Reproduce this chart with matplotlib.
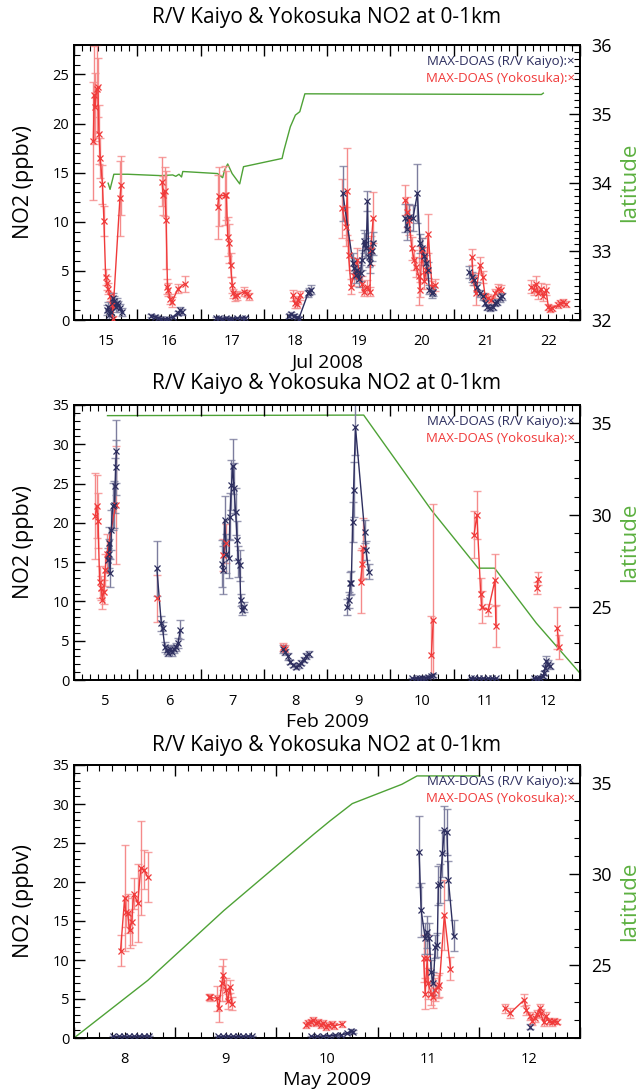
import numpy as np
import matplotlib
matplotlib.use("Agg")
import matplotlib.pyplot as plt
from matplotlib.ticker import MultipleLocator, FixedLocator, NullFormatter

plt.rcParams['font.family'] = ['Open Sans', 'DejaVu Sans']

TITLE = "R/V Kaiyo & Yokosuka NO2 at 0-1km"
NAVY = "#2d2e5f"
RED = "#f03a3a"
GREEN = "#4ea236"
GREEN_LABEL = "#5cb040"

# ---------------- Panel 1 : Jul 2008 ----------------
p1_xlabel = "Jul 2008"
p1_days = [15, 16, 17, 18, 19, 20, 21, 22]
p1_k_t = [15.52, 15.54, 15.56, 15.58, 15.61, 15.636, 15.66, 15.68, 15.70, 15.73, 15.76,
          16.225, 16.28, 16.33, 16.38, 16.435, 16.49, 16.56, 16.64, 16.68, 16.70,
          17.24, 17.29, 17.345, 17.40, 17.45, 17.50, 17.58, 17.66, 17.71,
          18.40, 18.43, 18.475, 18.52, 18.555, 18.70, 18.72, 18.75,
          19.25, 19.41, 19.43, 19.46, 19.48, 19.505, 19.53, 19.55, 19.58, 19.60, 19.62, 19.64, 19.66, 19.68, 19.71, 19.73,
          20.24, 20.26, 20.30, 20.36, 20.43, 20.47, 20.50, 20.54, 20.57, 20.59, 20.62, 20.66, 20.68,
          21.25, 21.29, 21.32, 21.37, 21.42, 21.46, 21.50, 21.53, 21.58, 21.62, 21.66, 21.69, 21.73, 21.76]
p1_k_v = [1.0, 1.35, 0.5, 0.85, 2.2, 1.9, 1.35, 1.7, 1.5, 1.2, 0.8,
          0.45, 0.35, 0.25, 0.15, 0.1, 0.15, 0.3, 0.75, 1.0, 0.85,
          0.25, 0.2, 0.15, 0.17, 0.15, 0.15, 0.17, 0.25, 0.25,
          0.45, 0.6, 0.4, 0.3, 0.15, 2.7, 2.9, 3.1,
          12.9, 5.8, 5.3, 4.6, 5.1, 4.2, 4.8, 6.1, 8.0, 7.7, 7.3, 12.1, 6.4, 5.8, 7.0, 7.8,
          10.4, 9.3, 10.5, 10.4, 12.9, 7.8, 7.3, 6.5, 5.8, 5.1, 3.1, 2.7, 2.9,
          4.9, 4.4, 4.1, 3.4, 2.7, 2.4, 1.7, 1.35, 1.2, 1.35, 1.7, 1.85, 2.2, 2.4]
p1_k_e = [0.5, 0.5, 0.4, 0.4, 0.6, 0.5, 0.5, 0.5, 0.4, 0.4, 0.4,
          0.15, 0.15, 0.1, 0.1, 0.1, 0.1, 0.15, 0.2, 0.3, 0.3,
          0.1, 0.1, 0.1, 0.1, 0.1, 0.1, 0.1, 0.1, 0.1,
          0.2, 0.2, 0.2, 0.15, 0.15, 0.4, 0.4, 0.5,
          2.8, 1.0, 1.0, 0.8, 0.9, 0.8, 0.8, 1.0, 1.2, 1.2, 1.0, 1.0, 1.0, 1.0, 1.0, 1.2,
          1.4, 1.2, 1.3, 1.3, 3.0, 1.0, 1.0, 0.9, 0.8, 0.8, 0.5, 0.5, 0.5,
          0.6, 0.5, 0.5, 0.5, 0.4, 0.4, 0.3, 0.3, 0.3, 0.3, 0.3, 0.3, 0.4, 0.4]
p1_y_t = [15.305, 15.32, 15.336, 15.357, 15.378, 15.394, 15.415, 15.45, 15.473, 15.50, 15.515, 15.54, 15.568, 15.594, 15.61, 15.726, 15.746,
          16.39, 16.41, 16.435, 16.456, 16.478, 16.49, 16.52, 16.546, 16.645, 16.75,
          17.27, 17.29, 17.38, 17.41, 17.43, 17.456, 17.476, 17.50, 17.52, 17.545, 17.58, 17.686, 17.73, 17.76,
          18.46, 18.49, 18.52, 18.54, 18.57,
          19.24, 19.30, 19.32, 19.34, 19.38, 19.42, 19.475, 19.55, 19.58, 19.63, 19.68, 19.69, 19.73,
          20.24, 20.26, 20.30, 20.34, 20.38, 20.41, 20.45, 20.47, 20.50, 20.54, 20.57, 20.60, 20.66, 20.71,
          21.29, 21.31, 21.35, 21.42, 21.46, 21.50, 21.55, 21.60, 21.66, 21.71, 21.745,
          22.23, 22.27, 22.30, 22.34, 22.38, 22.42, 22.46, 22.50, 22.53, 22.56, 22.655, 22.69, 22.73, 22.78]
p1_y_v = [18.2, 22.9, 21.7, 23.5, 23.7, 18.9, 16.5, 13.8, 10.1, 4.4, 3.8, 3.2, 2.4, 1.5, 0.1, 12.4, 13.7,
          14.1, 12.7, 13.1, 10.2, 3.4, 3.1, 2.1, 1.8, 3.2, 3.7,
          11.5, 12.6, 12.7, 12.7, 8.5, 7.8, 5.6, 3.6, 2.7, 2.4, 2.5, 2.9, 2.7, 2.4,
          2.5, 1.7, 1.6, 2.0, 2.5,
          11.4, 9.5, 13.1, 6.6, 3.4, 4.5, 6.1, 3.7, 2.9, 3.4, 2.9, 7.1, 10.4,
          12.2, 11.0, 10.2, 7.3, 6.1, 5.4, 4.5, 3.1, 7.1, 4.0, 5.1, 8.8, 3.4, 3.6,
          6.4, 4.2, 2.7, 5.6, 4.4, 2.4, 2.2, 2.0, 2.7, 3.2, 3.1,
          3.4, 3.1, 3.7, 2.7, 3.2, 2.4, 3.1, 1.35, 1.1, 1.2, 1.5, 1.7, 1.8, 1.6]
p1_y_e = [6.0, 5.0, 3.5, 4.5, 3.0, 3.0, 2.0, 2.0, 1.5, 0.8, 0.7, 0.6, 0.5, 0.4, 0.3, 3.8, 3.0,
          2.5, 2.0, 2.5, 5.0, 0.8, 0.7, 0.5, 0.5, 0.5, 0.8,
          3.3, 3.0, 3.0, 2.5, 2.0, 2.0, 1.2, 0.8, 0.5, 0.5, 0.5, 0.5, 0.4, 0.4,
          0.6, 0.5, 0.4, 0.4, 0.5,
          3.0, 2.0, 4.4, 1.5, 0.8, 1.0, 1.2, 0.8, 0.5, 0.7, 0.5, 1.5, 2.6,
          1.5, 1.5, 1.5, 1.2, 1.0, 1.0, 3.0, 0.8, 1.2, 0.8, 1.0, 2.0, 0.6, 0.6,
          0.8, 0.6, 1.2, 0.8, 0.6, 0.4, 0.4, 0.4, 0.5, 0.5, 0.5,
          0.7, 0.6, 0.8, 0.6, 0.6, 0.5, 0.6, 0.3, 0.3, 0.3, 0.3, 0.3, 0.3, 0.3]
p1_lat_t = [15.54, 15.57, 15.63, 15.85, 16.37, 16.56, 16.61, 16.66, 16.70, 16.72, 17.27, 17.35, 17.38,
            17.43, 17.50, 17.62, 17.68, 18.29, 18.32, 18.42, 18.50, 18.57, 18.65, 22.39, 22.42]
p1_lat_v = [33.99, 33.90, 34.12, 34.12, 34.10, 34.11, 34.09, 34.12, 34.08, 34.16, 34.13, 34.07, 34.18,
            34.27, 34.13, 33.98, 34.23, 34.35, 34.47, 34.81, 34.98, 35.03, 35.29, 35.28, 35.30]

# ---------------- Panel 2 : Feb 2009 ----------------
p2_xlabel = "Feb 2009"
p2_days = [5, 6, 7, 8, 9, 10, 11, 12]
p2_k_t = [5.53, 5.55, 5.56, 5.57, 5.59, 5.61, 5.64, 5.65, 5.66, 5.67,
          6.31, 6.38, 6.40, 6.435, 6.47, 6.49, 6.52, 6.55, 6.58, 6.61, 6.645, 6.68,
          7.345, 7.36, 7.38, 7.41, 7.45, 7.465, 7.49, 7.51, 7.53, 7.555, 7.58, 7.60, 7.62, 7.635, 7.655, 7.68,
          8.31, 8.34, 8.38, 8.42, 8.465, 8.51, 8.55, 8.59, 8.63, 8.675, 8.71,
          9.32, 9.345, 9.37, 9.385, 9.405, 9.42, 9.45, 9.595, 9.616, 9.66,
          10.35, 10.40, 10.45, 10.50, 10.55, 10.60, 10.65, 10.68,
          11.27, 11.33, 11.40, 11.47, 11.54, 11.61, 11.67,
          12.27, 12.32, 12.37, 12.41, 12.43, 12.45, 12.47, 12.50, 12.52]
p2_k_v = [15.3, 16.1, 17.5, 13.6, 19.1, 22.1, 22.3, 24.7, 27.1, 29.1,
          14.2, 7.2, 6.6, 4.2, 3.8, 3.5, 4.0, 3.6, 3.9, 4.2, 4.7, 6.4,
          14.8, 14.0, 20.4, 16.1, 15.5, 20.8, 24.8, 27.2, 24.4, 21.4, 17.8, 15.1, 14.6, 10.2, 8.9, 9.3,
          4.0, 3.6, 3.0, 2.3, 1.9, 1.7, 1.85, 2.2, 2.6, 3.05, 3.3,
          9.3, 10.2, 12.3, 12.4, 20.1, 24.2, 32.2, 18.9, 16.5, 13.8,
          0.2, 0.25, 0.2, 0.3, 0.3, 0.35, 0.5, 0.6,
          0.2, 0.2, 0.2, 0.2, 0.2, 0.2, 0.2,
          0.2, 0.2, 0.3, 0.5, 0.9, 1.5, 2.4, 2.0, 1.8]
p2_k_e = [1.5, 1.8, 2.0, 1.8, 2.5, 3.0, 3.0, 3.5, 3.5, 4.0,
          3.5, 1.0, 0.8, 0.6, 0.5, 0.5, 0.5, 0.5, 0.5, 0.5, 0.6, 1.2,
          3.0, 3.0, 3.0, 2.5, 2.5, 3.0, 3.2, 3.5, 3.2, 3.0, 2.5, 2.0, 2.0, 0.8, 0.6, 0.6,
          0.5, 0.4, 0.4, 0.3, 0.3, 0.3, 0.3, 0.3, 0.3, 0.4, 0.4,
          1.0, 1.0, 1.5, 1.5, 2.5, 3.5, 3.5, 1.5, 1.2, 1.0,
          0.1, 0.1, 0.1, 0.1, 0.1, 0.1, 0.15, 0.2,
          0.1, 0.1, 0.1, 0.1, 0.1, 0.1, 0.1,
          0.1, 0.1, 0.1, 0.2, 0.3, 0.4, 0.6, 0.5, 0.4]
p2_y_t = [5.336, 5.36, 5.38, 5.405, 5.43, 5.45, 5.47, 5.49, 5.52, 5.66,
          6.32,
          7.36, 7.40,
          8.31, 8.33,
          9.53, 9.56, 9.57,
          10.65, 10.68,
          11.325, 11.37, 11.43, 11.445, 11.55, 11.655, 11.67,
          12.32, 12.34, 12.64, 12.67]
p2_y_v = [20.9, 22.1, 20.3, 12.5, 11.7, 10.2, 11.2, 14.0, 16.1, 22.3,
          10.4,
          15.9, 17.4,
          4.2, 3.9,
          12.5, 14.8, 16.8,
          3.2, 7.6,
          18.5, 21.0, 11.0, 9.3, 8.9, 12.7, 6.9,
          11.7, 12.9, 6.6, 4.2]
p2_y_e = [5.5, 4.0, 3.5, 2.0, 1.5, 1.2, 1.5, 2.0, 2.5, 7.5,
          3.0,
          2.0, 2.5,
          0.5, 0.5,
          4.0, 2.0, 3.8,
          5.0, 14.8,
          3.0, 3.0, 2.0, 2.0, 0.8, 3.3, 2.7,
          0.8, 0.8, 2.7, 1.5]
p2_lat_t = [5.53, 9.58, 10.65, 11.39, 11.65, 12.31, 13.0]
p2_lat_v = [35.42, 35.45, 30.27, 27.1, 27.1, 24.1, 21.37]

# ---------------- Panel 3 : May 2009 ----------------
p3_xlabel = "May 2009"
p3_days = [8, 9, 10, 11, 12]
p3_k_t = [8.39, 8.44, 8.49, 8.54, 8.59, 8.64, 8.69, 8.74,
          9.42, 9.47, 9.52, 9.57, 9.62, 9.67, 9.72, 9.76,
          10.34, 10.40, 10.46, 10.52, 10.58, 10.64, 10.70, 10.74, 10.76,
          11.41, 11.43, 11.47, 11.49, 11.51, 11.53, 11.55, 11.57, 11.59, 11.60, 11.62, 11.64, 11.66, 11.685, 11.70, 11.75,
          12.51]
p3_k_v = [0.2, 0.2, 0.2, 0.2, 0.2, 0.2, 0.25, 0.25,
          0.2, 0.2, 0.2, 0.2, 0.2, 0.2, 0.25, 0.25,
          0.2, 0.2, 0.25, 0.3, 0.35, 0.4, 0.6, 0.9, 0.8,
          23.9, 16.4, 12.8, 13.6, 12.8, 8.5, 7.0, 11.7, 11.9, 19.6, 19.8, 23.7, 26.7, 26.4, 20.2, 13.1,
          1.45]
p3_k_e = [0.05, 0.05, 0.05, 0.05, 0.05, 0.05, 0.05, 0.05,
          0.05, 0.05, 0.05, 0.05, 0.05, 0.05, 0.05, 0.05,
          0.05, 0.05, 0.05, 0.1, 0.1, 0.1, 0.15, 0.2, 0.2,
          4.5, 3.5, 2.0, 2.0, 2.0, 1.5, 1.5, 1.5, 1.5, 2.5, 2.5, 3.0, 3.0, 3.0, 2.5, 2.0,
          0.3]
p3_y_t = [8.46, 8.50, 8.51, 8.53, 8.55, 8.57, 8.59, 8.63, 8.66, 8.69, 8.73,
          9.33, 9.345, 9.41, 9.43, 9.46, 9.475, 9.50, 9.52, 9.54, 9.56,
          10.29, 10.31, 10.34, 10.36, 10.39, 10.41, 10.44, 10.46, 10.49, 10.51, 10.55, 10.57, 10.65,
          11.455, 11.47, 11.49, 11.50, 11.53, 11.55, 11.57, 11.595, 11.61, 11.66, 11.72,
          12.26, 12.31, 12.45, 12.47, 12.51, 12.53, 12.56, 12.58, 12.60, 12.61, 12.64, 12.66, 12.69, 12.72, 12.74, 12.77]
p3_y_v = [11.2, 17.9, 16.2, 16.0, 13.8, 14.9, 18.5, 17.3, 21.8, 21.6, 20.6,
          5.3, 5.2, 5.1, 3.8, 7.0, 8.1, 6.2, 4.7, 6.6, 4.4,
          1.7, 1.9, 2.1, 2.3, 1.9, 2.1, 1.7, 1.9, 1.45, 1.7, 1.8, 1.55, 1.8,
          10.2, 5.7, 10.2, 7.0, 5.7, 5.3, 6.2, 6.6, 6.8, 15.8, 8.9,
          3.8, 3.2, 4.9, 3.6, 2.8, 2.2, 2.6, 3.1, 3.8, 3.2, 2.0, 2.8, 2.2, 2.0, 2.2, 2.1]
p3_y_e = [2.0, 6.8, 2.0, 2.5, 2.3, 3.0, 2.0, 5.0, 6.0, 2.5, 3.2,
          0.4, 0.4, 1.6, 1.7, 2.2, 2.0, 1.5, 1.0, 0.8, 0.8,
          0.4, 0.4, 0.4, 0.4, 0.4, 0.4, 0.4, 0.4, 0.4, 0.4, 0.4, 0.4, 0.4,
          3.0, 2.0, 3.0, 2.0, 1.5, 1.5, 1.5, 1.5, 1.5, 4.5, 1.5,
          0.6, 0.6, 0.8, 0.6, 0.5, 0.5, 0.5, 0.5, 0.6, 0.5, 0.4, 0.5, 0.4, 0.4, 0.4, 0.3]
p3_lat_t = [8.0, 8.73, 9.48, 10.37, 10.53, 10.75, 11.24, 11.39, 12.01]
p3_lat_v = [21.0, 24.17, 28.0, 32.2, 32.93, 33.88, 34.94, 35.4, 35.4]

FIG_W, FIG_H = 641, 1092
AX_L, AX_R = 74, 580


def with_gaps(t, v, gap=0.3):
    t = np.asarray(t, float)
    v = np.asarray(v, float)
    tt, vv = [t[0]], [v[0]]
    for i in range(1, len(t)):
        if t[i] - t[i - 1] > gap:
            tt.append(np.nan)
            vv.append(np.nan)
        tt.append(t[i])
        vv.append(v[i])
    return np.array(tt), np.array(vv)


def draw_series(ax, t, v, e, color, ecolor):
    eb = ax.errorbar(t, v, yerr=e, fmt='none', ecolor=ecolor, elinewidth=1.0,
                     capsize=3, capthick=1.0, zorder=2)
    for c in eb[1]:
        c.set_color(color)
        c.set_alpha(0.8)
    tt, vv = with_gaps(t, v)
    ax.plot(tt, vv, '-', color=color, lw=1.0, zorder=3)
    ax.plot(t, v, 'x', color=color, ms=4, mew=0.9, zorder=4)


def panel(top_px, bot_px, title_px, xlabel_px, days, xlabel, ylim, yminor, latlim,
          latmajor, latminor, k_t, k_v, k_e, y_t, y_v, y_e, lat_t, lat_v):
    fig = plt.gcf()
    ax = fig.add_axes([AX_L / FIG_W, 1 - bot_px / FIG_H, (AX_R - AX_L) / FIG_W,
                       (bot_px - top_px) / FIG_H])
    hpx = bot_px - top_px
    wpx = AX_R - AX_L
    x0, x1 = days[0], days[-1] + 1
    ax.set_xlim(x0, x1)
    ax.set_ylim(*ylim)

    ax2 = ax.twinx()
    ax2.set_ylim(*latlim)
    ax2.plot(lat_t, lat_v, '-', color=GREEN, lw=1.0, zorder=1)
    ax.set_zorder(ax2.get_zorder() + 1)
    ax.patch.set_visible(False)

    draw_series(ax, y_t, y_v, y_e, RED, "#f58a8a")
    draw_series(ax, k_t, k_v, k_e, NAVY, "#7c7d9e")

    # x ticks: midnight majors, 3-hour minors, labels at noon
    ax.xaxis.set_major_locator(FixedLocator(list(range(x0, x1 + 1))))
    ax.xaxis.set_minor_locator(MultipleLocator(0.125))
    ax.xaxis.set_major_formatter(NullFormatter())
    ax.tick_params(axis='x', which='both', direction='in', top=True, bottom=True)
    ax.tick_params(axis='x', which='major', length=8, width=1)
    ax.tick_params(axis='x', which='minor', length=4, width=0.8)
    sec = ax.secondary_xaxis('bottom')
    sec.set_xticks([d + 0.5 for d in days])
    sec.set_xticklabels([str(d) for d in days])
    sec.tick_params(length=0, pad=10, labelsize=10.5)
    sec.spines['bottom'].set_visible(False)
    ax.set_xlabel(xlabel, fontsize=14, va='center')
    ax.xaxis.set_label_coords(0.5, -(xlabel_px - bot_px) / hpx)

    ax.yaxis.set_major_locator(MultipleLocator(5))
    ax.yaxis.set_minor_locator(MultipleLocator(yminor))
    ax.tick_params(axis='y', which='both', direction='in', left=True, right=False,
                   labelsize=10.5)
    ax.tick_params(axis='y', which='major', length=8, width=1)
    ax.tick_params(axis='y', which='minor', length=4, width=0.8)
    ax.set_ylabel("NO2 (ppbv)", fontsize=15.5)
    ax.yaxis.set_label_coords((34 - AX_L) / wpx, 0.5)

    ax2.yaxis.set_major_locator(MultipleLocator(latmajor))
    ax2.yaxis.set_minor_locator(MultipleLocator(latminor))
    ax2.tick_params(axis='y', which='both', direction='in', labelsize=13, pad=8)
    ax2.tick_params(axis='y', which='major', length=8, width=1)
    ax2.tick_params(axis='y', which='minor', length=4, width=0.8)
    ax2.set_ylabel("latitude", fontsize=16, color=GREEN_LABEL)
    ax2.yaxis.set_label_coords((619 - AX_L) / wpx, 0.5)

    for a in (ax, ax2):
        for s in a.spines.values():
            s.set_linewidth(1.3)

    ax.set_title(TITLE, fontsize=15, y=1 + (top_px - title_px) / hpx, va='center', pad=0)

    ax.text((575 - AX_L) / wpx, 1 - 17 / hpx, "MAX-DOAS (R/V Kaiyo):\u00d7", color=NAVY,
            fontsize=9.5, ha='right', va='center', transform=ax.transAxes, zorder=10)
    ax.text((575 - AX_L) / wpx, 1 - 33 / hpx, "MAX-DOAS (Yokosuka):\u00d7", color=RED,
            fontsize=9.5, ha='right', va='center', transform=ax.transAxes, zorder=10)
    return ax


fig = plt.figure(figsize=(FIG_W / 100, FIG_H / 100), dpi=100)
panel(45, 320, 18, 363, p1_days, p1_xlabel, (0, 28), 1, (32, 36), 1, 0.1,
      p1_k_t, p1_k_v, p1_k_e, p1_y_t, p1_y_v, p1_y_e, p1_lat_t, p1_lat_v)
panel(405, 680, 383, 722, p2_days, p2_xlabel, (0, 35), 1, (21, 36), 5, 1,
      p2_k_t, p2_k_v, p2_k_e, p2_y_t, p2_y_v, p2_y_e, p2_lat_t, p2_lat_v)
panel(765, 1038, 745, 1080, p3_days, p3_xlabel, (0, 35), 1, (21, 36), 5, 1,
      p3_k_t, p3_k_v, p3_k_e, p3_y_t, p3_y_v, p3_y_e, p3_lat_t, p3_lat_v)

fig.savefig("out.png", dpi=100)
